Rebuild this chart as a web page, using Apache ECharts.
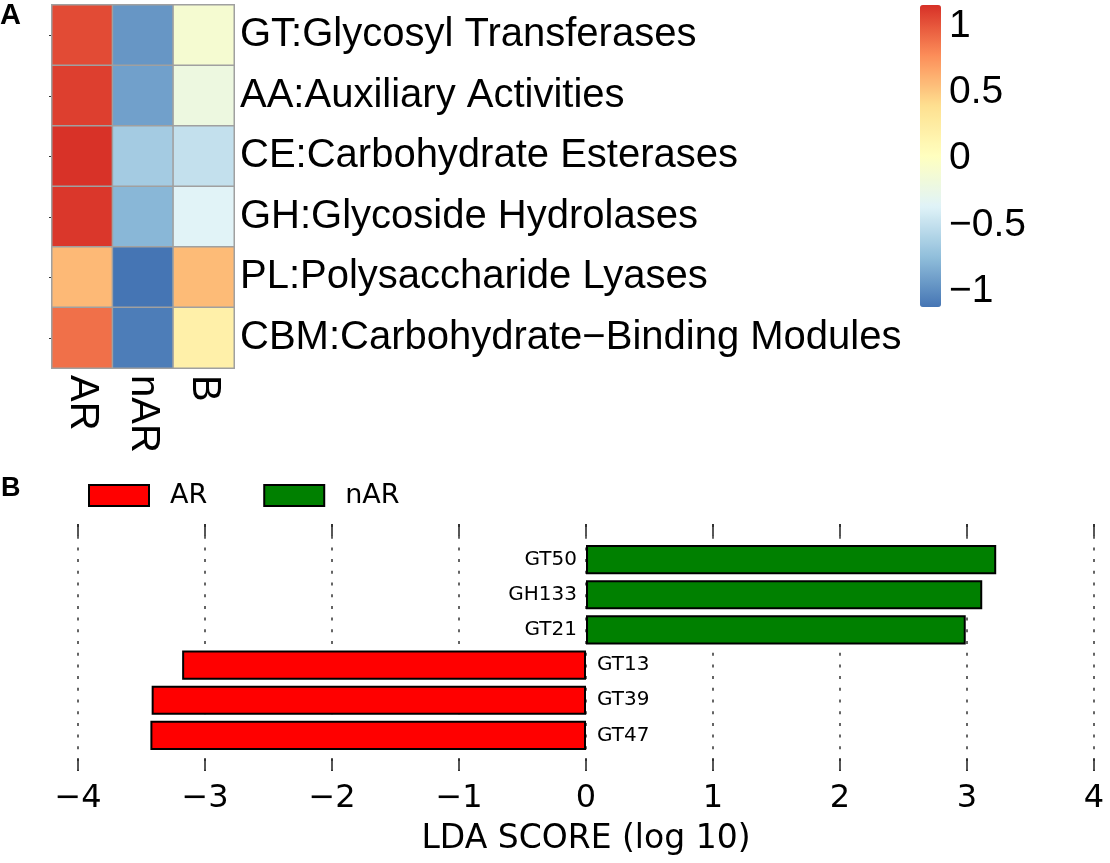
<!DOCTYPE html>
<html>
<head>
<meta charset="utf-8">
<script src="https://cdn.jsdelivr.net/npm/echarts@6/dist/echarts.min.js"></script>
<style>
  html, body { margin: 0; padding: 0; background: #fff; }
  #main { width: 1110px; height: 863px; }
</style>
</head>
<body>
<div id="main"></div>
<script>
// panel A: row-scaled heatmap
const heatRows = [
    "GT:Glycosyl Transferases",
    "AA:Auxiliary Activities",
    "CE:Carbohydrate Esterases",
    "GH:Glycoside Hydrolases",
    "PL:Polysaccharide Lyases",
    "CBM:Carbohydrate\u2212Binding Modules"
];
const heatCols = ["AR", "nAR", "B"];
const arValues = [1.05, 1.1, 1.15, 1.13, 0.58, 0.9];
const narValues = [-0.95, -0.9, -0.65, -0.78, -1.15, -1.08];
const bValues = [-0.1, -0.2, -0.5, -0.35, 0.57, 0.2];
const colorTicks = [-1, -0.5, 0, 0.5, 1];

// panel B: LDA scores
const ldaNames = ["GT50", "GH133", "GT21", "GT13", "GT39", "GT47"];
const narScores = [3.23, 3.12, 2.99, "-", "-", "-"];
const arScores = ["-", "-", "-", -3.18, -3.42, -3.43];

const heatData = [];
[arValues, narValues, bValues].forEach(function (col, ci) {
    col.forEach(function (v, ri) {
        heatData.push([ci, ri, v]);
    });
});

function minusFmt (v) {
    return v < 0 ? "\u2212" + Math.abs(v) : String(v);
}

const chart = echarts.init(document.getElementById("main"));
const option = {
    backgroundColor: "#fff",
    animation: false,
    graphic: [
        { type: "text", left: 0, top: 1, style: { text: "A", font: "bold 29px 'Liberation Sans'", fill: "#000" } },
        { type: "text", left: 1, top: 475, style: { text: "B", font: "bold 27px 'Liberation Sans'", fill: "#000" } }
    ],
    legend: {
        data: ["AR", "nAR"],
        left: 88,
        top: 482,
        padding: 0,
        icon: "rect",
        itemWidth: 60,
        itemHeight: 21,
        itemGap: 56,
        textStyle: { fontFamily: "DejaVu Sans", fontSize: 27, color: "#000", padding: [0, 0, 0, 16] }
    },
    visualMap: {
        type: "continuous",
        seriesIndex: 0,
        min: -1.12,
        max: 1.16,
        calculable: false,
        left: 920,
        top: 5,
        padding: 0,
        itemWidth: 21,
        itemHeight: 302,
        text: null,
        showLabel: false,
        inRange: {
            color: ["#4575B4", "#91BFDB", "#E0F3F8", "#FFFFBF", "#FEE090", "#FC8D59", "#D73027"]
        }
    },
    grid: [
        { left: 52, top: 5, width: 182, height: 363 },
        { left: 920, top: 5, width: 21, height: 302 },
        { left: 78, top: 542, width: 1016, height: 211 },
        { left: 78, top: 524, width: 1016, height: 247 }
    ],
    xAxis: [
        {
            gridIndex: 0,
            type: "category",
            data: heatCols,
            position: "bottom",
            axisLine: { show: false },
            axisTick: { show: false },
            axisLabel: { rotate: -90, margin: 7, fontFamily: "Liberation Sans", fontSize: 40, color: "#000" }
        },
        { gridIndex: 1, type: "value", show: false },
        { gridIndex: 2, type: "value", min: -4, max: 4, show: false },
        {
            gridIndex: 3,
            type: "value",
            min: -4,
            max: 4,
            interval: 1,
            position: "bottom",
            name: "LDA SCORE (log 10)",
            nameLocation: "middle",
            nameGap: 52,
            nameTextStyle: { fontFamily: "DejaVu Sans", fontSize: 33, color: "#000" },
            axisLine: { show: false },
            axisTick: { show: true, inside: true, length: 12, lineStyle: { color: "#222", width: 1.5 } },
            axisLabel: { margin: 12, fontFamily: "DejaVu Sans", fontSize: 32, color: "#000", formatter: minusFmt },
            splitLine: { show: true, lineStyle: { color: "#333", width: 1.5, type: [3, 8.7] } }
        },
        {
            gridIndex: 3,
            type: "value",
            min: -4,
            max: 4,
            interval: 1,
            position: "top",
            axisLine: { show: false },
            axisTick: { show: true, inside: true, length: 12, lineStyle: { color: "#222", width: 1.5 } },
            axisLabel: { show: false },
            splitLine: { show: false }
        }
    ],
    yAxis: [
        {
            gridIndex: 0,
            type: "category",
            data: heatRows,
            inverse: true,
            position: "right",
            axisLine: { show: false },
            axisTick: { show: false },
            axisLabel: { margin: 6, fontFamily: "Liberation Sans", fontSize: 40, color: "#000" }
        },
        {
            gridIndex: 0,
            type: "category",
            data: heatRows,
            inverse: true,
            position: "left",
            axisLine: { show: false },
            axisTick: { show: true, alignWithLabel: true, length: 3, lineStyle: { color: "#333" } },
            axisLabel: { show: false }
        },
        {
            gridIndex: 1,
            type: "value",
            min: -1.12,
            max: 1.16,
            position: "right",
            axisLine: { show: false },
            axisTick: { show: false },
            splitLine: { show: false },
            axisLabel: { customValues: colorTicks, margin: 8, fontFamily: "Liberation Sans", fontSize: 39, color: "#000", formatter: minusFmt }
        },
        {
            gridIndex: 2,
            type: "category",
            data: ldaNames,
            inverse: true,
            show: false
        },
        { gridIndex: 3, type: "value", show: false }
    ],
    series: [
        {
            type: "heatmap",
            xAxisIndex: 0,
            yAxisIndex: 0,
            data: heatData,
            itemStyle: { borderColor: "#A0A0A0", borderWidth: 1.5 },
            emphasis: { disabled: true }
        },
        {
            name: "AR",
            type: "bar",
            xAxisIndex: 2,
            yAxisIndex: 3,
            data: arScores,
            barWidth: "83%",
            barGap: "-100%",
            itemStyle: { color: "#FF0000", borderColor: "#000", borderWidth: 2 },
            label: { show: true, position: "right", distance: 11, formatter: "{b}", fontFamily: "DejaVu Sans", fontSize: 20, color: "#000" }
        },
        {
            name: "nAR",
            type: "bar",
            xAxisIndex: 2,
            yAxisIndex: 3,
            data: narScores,
            barWidth: "83%",
            barGap: "-100%",
            itemStyle: { color: "#008000", borderColor: "#000", borderWidth: 2 },
            label: { show: true, position: "left", distance: 9, formatter: "{b}", fontFamily: "DejaVu Sans", fontSize: 20, color: "#000" }
        }
    ]
};
chart.setOption(option);
</script>
</body>
</html>
